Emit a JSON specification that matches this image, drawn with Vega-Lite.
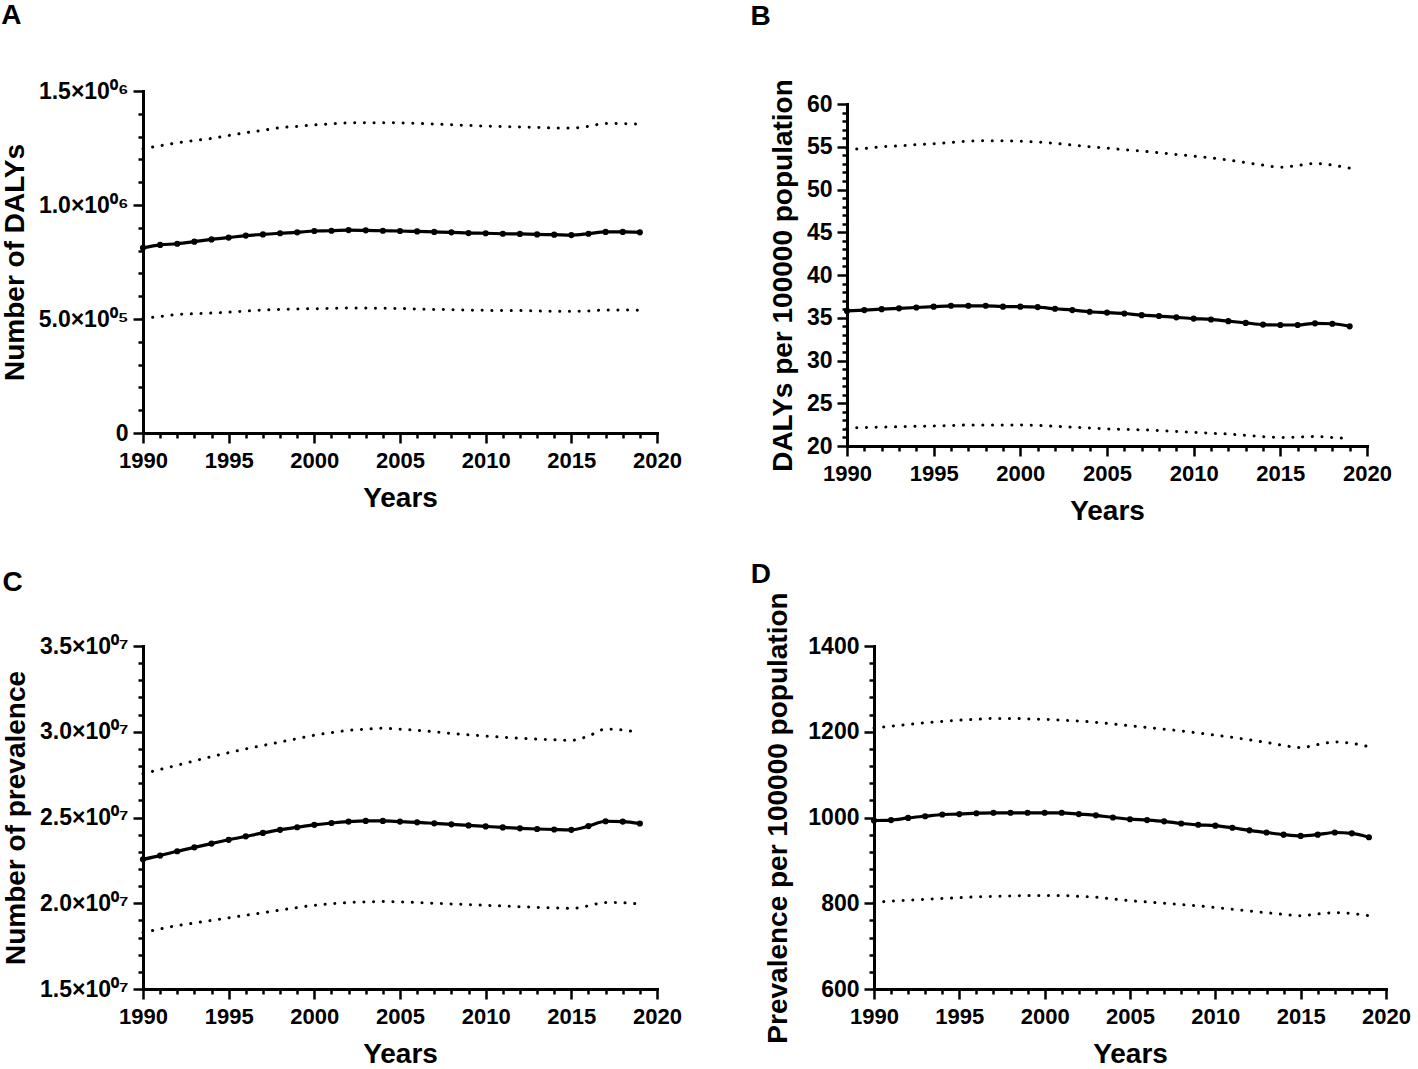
{
  "$schema": "https://vega.github.io/schema/vega-lite/v6.json",
  "padding": {"left": 1, "top": 2, "right": 0, "bottom": 0},
  "background": "white",
  "config": {
    "view": {"stroke": null},
    "font": "Liberation Sans",
    "axis": {
      "domainColor": "black", "domainWidth": 3, "domainCap": "square",
      "tickColor": "black", "tickWidth": 2.5,
      "labelFont": "Liberation Sans", "labelFontSize": 22, "labelFontWeight": "bold", "labelColor": "black",
      "titleFont": "Liberation Sans", "titleFontSize": 28, "titleFontWeight": "bold", "titleColor": "black",
      "grid": false, "labelOverlap": false, "labelFlush": false
    },
    "title": {"font": "Liberation Sans", "fontSize": 28, "fontWeight": "bold", "color": "black", "anchor": "start", "frame": "bounds"}
  },
  "datasets": {
    "A": [
      {"year":1990,"value":812000,"lower":503000,"upper":1247000},
      {"year":1991,"value":825000,"lower":511000,"upper":1260000},
      {"year":1992,"value":830000,"lower":520000,"upper":1273000},
      {"year":1993,"value":839000,"lower":523000,"upper":1283000},
      {"year":1994,"value":849000,"lower":526000,"upper":1292000},
      {"year":1995,"value":857000,"lower":530000,"upper":1305000},
      {"year":1996,"value":866000,"lower":535000,"upper":1317000},
      {"year":1997,"value":871000,"lower":539000,"upper":1328000},
      {"year":1998,"value":876000,"lower":542000,"upper":1339000},
      {"year":1999,"value":880000,"lower":544000,"upper":1345000},
      {"year":2000,"value":886000,"lower":545000,"upper":1351000},
      {"year":2001,"value":887000,"lower":547000,"upper":1356000},
      {"year":2002,"value":890000,"lower":548000,"upper":1360000},
      {"year":2003,"value":889000,"lower":548000,"upper":1361000},
      {"year":2004,"value":887000,"lower":547000,"upper":1361000},
      {"year":2005,"value":886000,"lower":546000,"upper":1360000},
      {"year":2006,"value":884000,"lower":544000,"upper":1358000},
      {"year":2007,"value":882000,"lower":542000,"upper":1355000},
      {"year":2008,"value":880000,"lower":541000,"upper":1352000},
      {"year":2009,"value":877000,"lower":539000,"upper":1349000},
      {"year":2010,"value":876000,"lower":538000,"upper":1346000},
      {"year":2011,"value":874000,"lower":537000,"upper":1344000},
      {"year":2012,"value":873000,"lower":537000,"upper":1342000},
      {"year":2013,"value":871000,"lower":535000,"upper":1340000},
      {"year":2014,"value":870000,"lower":534000,"upper":1338000},
      {"year":2015,"value":868000,"lower":534000,"upper":1338000},
      {"year":2016,"value":874000,"lower":535000,"upper":1345000},
      {"year":2017,"value":882000,"lower":540000,"upper":1358000},
      {"year":2018,"value":882000,"lower":540000,"upper":1357000},
      {"year":2019,"value":880000,"lower":538000,"upper":1355000}
    ],
    "B": [
      {"year":1990,"value":35.8,"lower":22.1,"upper":54.7},
      {"year":1991,"value":35.9,"lower":22.15,"upper":54.8},
      {"year":1992,"value":36.0,"lower":22.2,"upper":55.0},
      {"year":1993,"value":36.1,"lower":22.25,"upper":55.1},
      {"year":1994,"value":36.2,"lower":22.3,"upper":55.25},
      {"year":1995,"value":36.3,"lower":22.35,"upper":55.35},
      {"year":1996,"value":36.4,"lower":22.4,"upper":55.5},
      {"year":1997,"value":36.4,"lower":22.45,"upper":55.65},
      {"year":1998,"value":36.4,"lower":22.45,"upper":55.7},
      {"year":1999,"value":36.3,"lower":22.45,"upper":55.7},
      {"year":2000,"value":36.3,"lower":22.45,"upper":55.65},
      {"year":2001,"value":36.25,"lower":22.4,"upper":55.55},
      {"year":2002,"value":36.05,"lower":22.3,"upper":55.4},
      {"year":2003,"value":35.9,"lower":22.2,"upper":55.2},
      {"year":2004,"value":35.7,"lower":22.1,"upper":55.0},
      {"year":2005,"value":35.6,"lower":22.0,"upper":54.85},
      {"year":2006,"value":35.5,"lower":21.95,"upper":54.65},
      {"year":2007,"value":35.3,"lower":21.9,"upper":54.5},
      {"year":2008,"value":35.2,"lower":21.8,"upper":54.3},
      {"year":2009,"value":35.05,"lower":21.7,"upper":54.1},
      {"year":2010,"value":34.9,"lower":21.6,"upper":53.9},
      {"year":2011,"value":34.8,"lower":21.5,"upper":53.7},
      {"year":2012,"value":34.6,"lower":21.4,"upper":53.45},
      {"year":2013,"value":34.4,"lower":21.25,"upper":53.15},
      {"year":2014,"value":34.2,"lower":21.1,"upper":52.85},
      {"year":2015,"value":34.15,"lower":21.0,"upper":52.6},
      {"year":2016,"value":34.15,"lower":21.05,"upper":52.8},
      {"year":2017,"value":34.35,"lower":21.1,"upper":53.05},
      {"year":2018,"value":34.3,"lower":21.0,"upper":52.85},
      {"year":2019,"value":34.0,"lower":20.85,"upper":52.5}
    ],
    "C": [
      {"year":1990,"value":22560000,"lower":18300000,"upper":27550000},
      {"year":1991,"value":22780000,"lower":18500000,"upper":27800000},
      {"year":1992,"value":23030000,"lower":18700000,"upper":28050000},
      {"year":1993,"value":23260000,"lower":18850000,"upper":28300000},
      {"year":1994,"value":23480000,"lower":19000000,"upper":28550000},
      {"year":1995,"value":23700000,"lower":19150000,"upper":28780000},
      {"year":1996,"value":23900000,"lower":19300000,"upper":29000000},
      {"year":1997,"value":24100000,"lower":19450000,"upper":29200000},
      {"year":1998,"value":24280000,"lower":19600000,"upper":29400000},
      {"year":1999,"value":24430000,"lower":19750000,"upper":29600000},
      {"year":2000,"value":24570000,"lower":19880000,"upper":29800000},
      {"year":2001,"value":24680000,"lower":19970000,"upper":29950000},
      {"year":2002,"value":24760000,"lower":20040000,"upper":30080000},
      {"year":2003,"value":24800000,"lower":20080000,"upper":30150000},
      {"year":2004,"value":24800000,"lower":20100000,"upper":30200000},
      {"year":2005,"value":24760000,"lower":20080000,"upper":30150000},
      {"year":2006,"value":24720000,"lower":20040000,"upper":30080000},
      {"year":2007,"value":24660000,"lower":20000000,"upper":30000000},
      {"year":2008,"value":24600000,"lower":19960000,"upper":29900000},
      {"year":2009,"value":24540000,"lower":19920000,"upper":29820000},
      {"year":2010,"value":24480000,"lower":19880000,"upper":29750000},
      {"year":2011,"value":24420000,"lower":19840000,"upper":29680000},
      {"year":2012,"value":24370000,"lower":19800000,"upper":29620000},
      {"year":2013,"value":24330000,"lower":19760000,"upper":29570000},
      {"year":2014,"value":24300000,"lower":19730000,"upper":29530000},
      {"year":2015,"value":24280000,"lower":19700000,"upper":29500000},
      {"year":2016,"value":24500000,"lower":19850000,"upper":29750000},
      {"year":2017,"value":24780000,"lower":20050000,"upper":30150000},
      {"year":2018,"value":24760000,"lower":20030000,"upper":30100000},
      {"year":2019,"value":24650000,"lower":19950000,"upper":29950000}
    ],
    "D": [
      {"year":1990,"value":993,"lower":802,"upper":1209},
      {"year":1991,"value":994,"lower":805,"upper":1213},
      {"year":1992,"value":999,"lower":807,"upper":1217},
      {"year":1993,"value":1003,"lower":809,"upper":1221},
      {"year":1994,"value":1007,"lower":811,"upper":1224},
      {"year":1995,"value":1008,"lower":813,"upper":1227},
      {"year":1996,"value":1010,"lower":815,"upper":1229},
      {"year":1997,"value":1011,"lower":816,"upper":1231},
      {"year":1998,"value":1011,"lower":817,"upper":1231},
      {"year":1999,"value":1011,"lower":818,"upper":1230},
      {"year":2000,"value":1011,"lower":818,"upper":1229},
      {"year":2001,"value":1011,"lower":818,"upper":1227},
      {"year":2002,"value":1008,"lower":816,"upper":1225},
      {"year":2003,"value":1005,"lower":814,"upper":1222},
      {"year":2004,"value":1000,"lower":810,"upper":1218},
      {"year":2005,"value":996,"lower":806,"upper":1214},
      {"year":2006,"value":994,"lower":803,"upper":1210},
      {"year":2007,"value":991,"lower":800,"upper":1206},
      {"year":2008,"value":986,"lower":797,"upper":1202},
      {"year":2009,"value":983,"lower":794,"upper":1197},
      {"year":2010,"value":981,"lower":790,"upper":1192},
      {"year":2011,"value":976,"lower":786,"upper":1187},
      {"year":2012,"value":970,"lower":782,"upper":1181},
      {"year":2013,"value":965,"lower":778,"upper":1175},
      {"year":2014,"value":960,"lower":774,"upper":1168},
      {"year":2015,"value":957,"lower":771,"upper":1163},
      {"year":2016,"value":960,"lower":775,"upper":1170},
      {"year":2017,"value":965,"lower":778,"upper":1176},
      {"year":2018,"value":963,"lower":776,"upper":1173},
      {"year":2019,"value":954,"lower":771,"upper":1165}
    ]
  },
  "columns": 2,
  "align": {"row": "each", "column": "none"},
  "center": {"row": true, "column": false},
  "spacing": {"row": 22, "column": 68},
  "concat": [
    {
      "data": {"name": "A"},
      "width": 514, "height": 342,
      "title": {"text": "A", "offset": 50},
      "transform": [{"fold": ["value", "lower", "upper"], "as": ["series", "v"]}],
      "encoding": {
        "x": {"field": "year", "type": "quantitative",
          "scale": {"domain": [1990, 2020], "nice": false, "zero": false},
          "axis": {"title": ["Years", " "], "titleLineHeight": 26, "titlePadding": 13,
            "values": [1990,1991,1992,1993,1994,1995,1996,1997,1998,1999,2000,2001,2002,2003,2004,2005,2006,2007,2008,2009,2010,2011,2012,2013,2014,2015,2016,2017,2018,2019,2020],
            "labelExpr": "datum.value % 5 === 0 ? '' + datum.value : ''",
            "tickSize": {"condition": {"test": "datum.value % 5 === 0", "value": 10}, "value": 5},
            "labelPadding": 7}},
        "y": {"field": "v", "type": "quantitative",
          "scale": {"domain": [0, 1500000], "nice": false, "zero": false},
          "axis": {"title": "Number of DALYs", "titlePadding": 9, "labelFontSize": 23,
            "values": [0,100000,200000,300000,400000,500000,600000,700000,800000,900000,1000000,1100000,1200000,1300000,1400000,1500000],
            "labelExpr": "datum.value === 1500000 ? '1.5×10⁰⁶' : datum.value === 1000000 ? '1.0×10⁰⁶' : datum.value === 500000 ? '5.0×10⁰⁵' : datum.value === 0 ? '0' : ''",
            "tickSize": {"condition": {"test": "datum.value % 500000 === 0", "value": 10}, "value": 5},
            "labelPadding": 5}}
      },
      "layer": [
        {"transform": [{"filter": "datum.series !== 'value'"}],
         "mark": {"type": "line", "color": "black", "strokeWidth": 3, "strokeDash": [0.1, 9.6], "strokeCap": "round", "interpolate": "monotone"},
         "encoding": {"detail": {"field": "series"}}},
        {"transform": [{"filter": "datum.series === 'value'"}],
         "mark": {"type": "line", "color": "black", "strokeWidth": 3.2, "interpolate": "monotone"}},
        {"transform": [{"filter": "datum.series === 'value'"}],
         "mark": {"type": "point", "filled": true, "color": "black", "size": 38, "opacity": 1}}
      ]
    },
    {
      "data": {"name": "B"},
      "width": 520, "height": 342,
      "title": {"text": "B", "offset": 48, "dx": -19},
      "transform": [{"fold": ["value", "lower", "upper"], "as": ["series", "v"]}],
      "encoding": {
        "x": {"field": "year", "type": "quantitative",
          "scale": {"domain": [1990, 2020], "nice": false, "zero": false},
          "axis": {"title": "Years", "titlePadding": 13,
            "values": [1990,1991,1992,1993,1994,1995,1996,1997,1998,1999,2000,2001,2002,2003,2004,2005,2006,2007,2008,2009,2010,2011,2012,2013,2014,2015,2016,2017,2018,2019,2020],
            "labelExpr": "datum.value % 5 === 0 ? '' + datum.value : ''",
            "tickSize": {"condition": {"test": "datum.value % 5 === 0", "value": 10}, "value": 5},
            "labelPadding": 7}},
        "y": {"field": "v", "type": "quantitative",
          "scale": {"domain": [20, 60], "nice": false, "zero": false},
          "axis": {"title": "DALYs per 100000 population", "titlePadding": 9, "labelFontSize": 23,
            "values": [20,21,22,23,24,25,26,27,28,29,30,31,32,33,34,35,36,37,38,39,40,41,42,43,44,45,46,47,48,49,50,51,52,53,54,55,56,57,58,59,60],
            "labelExpr": "datum.value % 5 === 0 ? '' + datum.value : ''",
            "tickSize": {"condition": {"test": "datum.value % 5 === 0", "value": 10}, "value": 5},
            "labelPadding": 5}}
      },
      "layer": [
        {"transform": [{"filter": "datum.series !== 'value'"}],
         "mark": {"type": "line", "color": "black", "strokeWidth": 3, "strokeDash": [0.1, 9.6], "strokeCap": "round", "interpolate": "monotone"},
         "encoding": {"detail": {"field": "series"}}},
        {"transform": [{"filter": "datum.series === 'value'"}],
         "mark": {"type": "line", "color": "black", "strokeWidth": 3.2, "interpolate": "monotone"}},
        {"transform": [{"filter": "datum.series === 'value'"}],
         "mark": {"type": "point", "filled": true, "color": "black", "size": 38, "opacity": 1}}
      ]
    },
    {
      "data": {"name": "C"},
      "width": 514, "height": 343,
      "title": {"text": "C", "offset": 38},
      "transform": [{"fold": ["value", "lower", "upper"], "as": ["series", "v"]}],
      "encoding": {
        "x": {"field": "year", "type": "quantitative",
          "scale": {"domain": [1990, 2020], "nice": false, "zero": false},
          "axis": {"title": "Years", "titlePadding": 13,
            "values": [1990,1991,1992,1993,1994,1995,1996,1997,1998,1999,2000,2001,2002,2003,2004,2005,2006,2007,2008,2009,2010,2011,2012,2013,2014,2015,2016,2017,2018,2019,2020],
            "labelExpr": "datum.value % 5 === 0 ? '' + datum.value : ''",
            "tickSize": {"condition": {"test": "datum.value % 5 === 0", "value": 10}, "value": 5},
            "labelPadding": 7}},
        "y": {"field": "v", "type": "quantitative",
          "scale": {"domain": [15000000, 35000000], "nice": false, "zero": false},
          "axis": {"title": "Number of prevalence", "titlePadding": 9, "labelFontSize": 23,
            "values": [15000000,16000000,17000000,18000000,19000000,20000000,21000000,22000000,23000000,24000000,25000000,26000000,27000000,28000000,29000000,30000000,31000000,32000000,33000000,34000000,35000000],
            "labelExpr": "datum.value === 35000000 ? '3.5×10⁰⁷' : datum.value === 30000000 ? '3.0×10⁰⁷' : datum.value === 25000000 ? '2.5×10⁰⁷' : datum.value === 20000000 ? '2.0×10⁰⁷' : datum.value === 15000000 ? '1.5×10⁰⁷' : ''",
            "tickSize": {"condition": {"test": "datum.value % 5000000 === 0", "value": 10}, "value": 5},
            "labelPadding": 5}}
      },
      "layer": [
        {"transform": [{"filter": "datum.series !== 'value'"}],
         "mark": {"type": "line", "color": "black", "strokeWidth": 3, "strokeDash": [0.1, 9.6], "strokeCap": "round", "interpolate": "monotone"},
         "encoding": {"detail": {"field": "series"}}},
        {"transform": [{"filter": "datum.series === 'value'"}],
         "mark": {"type": "line", "color": "black", "strokeWidth": 3.2, "interpolate": "monotone"}},
        {"transform": [{"filter": "datum.series === 'value'"}],
         "mark": {"type": "point", "filled": true, "color": "black", "size": 38, "opacity": 1}}
      ]
    },
    {
      "data": {"name": "D"},
      "width": 512, "height": 343,
      "title": {"text": "D", "offset": 3, "dx": -14},
      "transform": [{"fold": ["value", "lower", "upper"], "as": ["series", "v"]}],
      "encoding": {
        "x": {"field": "year", "type": "quantitative",
          "scale": {"domain": [1990, 2020], "nice": false, "zero": false},
          "axis": {"title": "Years", "titlePadding": 13,
            "values": [1990,1991,1992,1993,1994,1995,1996,1997,1998,1999,2000,2001,2002,2003,2004,2005,2006,2007,2008,2009,2010,2011,2012,2013,2014,2015,2016,2017,2018,2019,2020],
            "labelExpr": "datum.value % 5 === 0 ? '' + datum.value : ''",
            "tickSize": {"condition": {"test": "datum.value % 5 === 0", "value": 10}, "value": 5},
            "labelPadding": 7}},
        "y": {"field": "v", "type": "quantitative",
          "scale": {"domain": [600, 1400], "nice": false, "zero": false},
          "axis": {"title": "Prevalence per 100000 population", "titlePadding": 15, "labelFontSize": 23,
            "values": [600,640,680,720,760,800,840,880,920,960,1000,1040,1080,1120,1160,1200,1240,1280,1320,1360,1400],
            "labelExpr": "datum.value % 200 === 0 ? '' + datum.value : ''",
            "tickSize": {"condition": {"test": "datum.value % 200 === 0", "value": 10}, "value": 5},
            "labelPadding": 5}}
      },
      "layer": [
        {"transform": [{"filter": "datum.series !== 'value'"}],
         "mark": {"type": "line", "color": "black", "strokeWidth": 3, "strokeDash": [0.1, 9.6], "strokeCap": "round", "interpolate": "monotone"},
         "encoding": {"detail": {"field": "series"}}},
        {"transform": [{"filter": "datum.series === 'value'"}],
         "mark": {"type": "line", "color": "black", "strokeWidth": 3.2, "interpolate": "monotone"}},
        {"transform": [{"filter": "datum.series === 'value'"}],
         "mark": {"type": "point", "filled": true, "color": "black", "size": 38, "opacity": 1}}
      ]
    }
  ]
}
